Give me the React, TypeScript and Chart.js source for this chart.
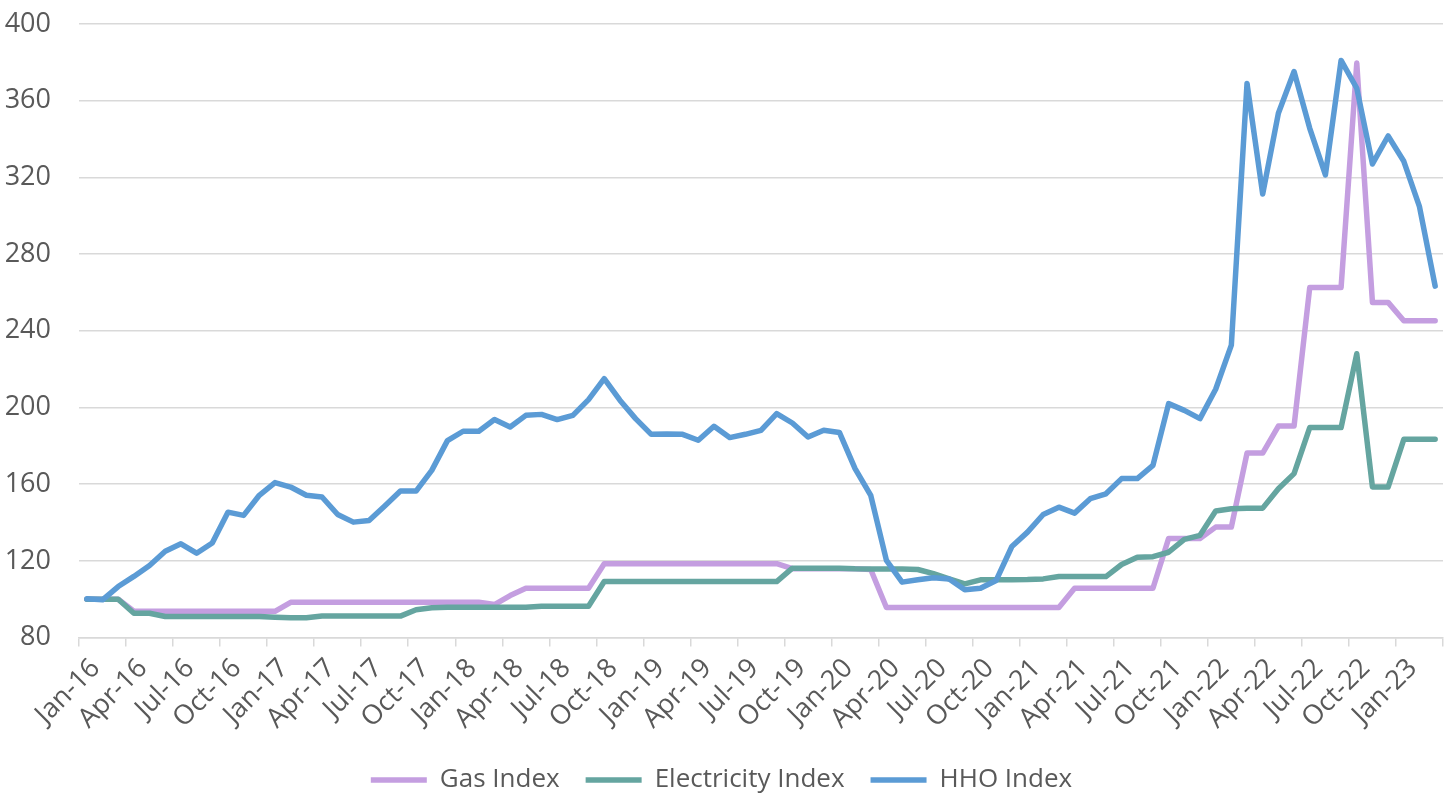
import React, { useEffect, useRef } from 'react';
import Chart from 'chart.js/auto';

const LABELS = [
  'Jan-16','Feb-16','Mar-16','Apr-16','May-16','Jun-16','Jul-16','Aug-16','Sep-16','Oct-16','Nov-16','Dec-16',
  'Jan-17','Feb-17','Mar-17','Apr-17','May-17','Jun-17','Jul-17','Aug-17','Sep-17','Oct-17','Nov-17','Dec-17',
  'Jan-18','Feb-18','Mar-18','Apr-18','May-18','Jun-18','Jul-18','Aug-18','Sep-18','Oct-18','Nov-18','Dec-18',
  'Jan-19','Feb-19','Mar-19','Apr-19','May-19','Jun-19','Jul-19','Aug-19','Sep-19','Oct-19','Nov-19','Dec-19',
  'Jan-20','Feb-20','Mar-20','Apr-20','May-20','Jun-20','Jul-20','Aug-20','Sep-20','Oct-20','Nov-20','Dec-20',
  'Jan-21','Feb-21','Mar-21','Apr-21','May-21','Jun-21','Jul-21','Aug-21','Sep-21','Oct-21','Nov-21','Dec-21',
  'Jan-22','Feb-22','Mar-22','Apr-22','May-22','Jun-22','Jul-22','Aug-22','Sep-22','Oct-22','Nov-22','Dec-22',
  'Jan-23','Feb-23','Mar-23',
];

const GAS_INDEX = [
  100, 100, 100,
  93.7, 93.7, 93.7, 93.7, 93.7, 93.7, 93.7, 93.7, 93.7, 93.7,
  98.4, 98.4, 98.4, 98.4, 98.4, 98.4, 98.4, 98.4, 98.4, 98.4, 98.4, 98.4, 98.4,
  97.2, 101.9,
  105.7, 105.7, 105.7, 105.7, 105.7,
  118.5, 118.5, 118.5, 118.5, 118.5, 118.5, 118.5, 118.5, 118.5, 118.5, 118.5, 118.5,
  115.9, 115.9, 115.9, 115.9, 115.9, 115.5,
  95.7, 95.7, 95.7, 95.7, 95.7, 95.7, 95.7, 95.7, 95.7, 95.7, 95.7, 95.7,
  105.7, 105.7, 105.7, 105.7, 105.7, 105.7,
  131.7, 131.7, 131.7,
  137.6, 137.6,
  176.2, 176.2,
  190.3, 190.3,
  262.6, 262.6, 262.6,
  379.6,
  254.8, 254.8,
  245.2, 245.2, 245.2,
];

const ELECTRICITY_INDEX = [
  100, 100, 100,
  92.7, 92.7,
  91, 91, 91, 91, 91, 91, 91,
  90.6,
  90.3, 90.3,
  91.2, 91.2, 91.2, 91.2, 91.2, 91.2,
  94.5, 95.5,
  95.8, 95.8, 95.8, 95.8, 95.8, 95.8,
  96.3, 96.3, 96.3, 96.3,
  109.2, 109.2, 109.2, 109.2, 109.2, 109.2, 109.2, 109.2, 109.2, 109.2, 109.2, 109.2,
  116.2, 116.2, 116.2, 116.2,
  115.9, 115.8, 115.8, 115.7, 115.5,
  113.3, 110.6, 108, 110.1,
  110.2, 110.2, 110.3, 110.6,
  111.8, 111.8, 111.8, 111.8,
  118.1, 121.9, 122.2, 124.5, 131.2, 133.3, 146, 147.2,
  147.5, 147.5,
  157.6, 165.5,
  189.5, 189.5, 189.5,
  228,
  158.5, 158.5,
  183.4, 183.4, 183.4,
];

const HHO_INDEX = [
  100.2, 99.7, 106.6, 111.9, 117.6, 125, 128.9, 124, 129.3, 145.4, 143.7, 154.2,
  160.8, 158.5, 154.2, 153.3, 144.2, 140.2, 141.1, 148.6, 156.4, 156.4, 167.2, 182.7,
  187.6, 187.6, 193.7, 189.8, 195.9, 196.4, 193.7, 195.9, 204.1, 215, 203.8, 194.2,
  186, 186.2, 186, 182.9, 190.2, 184.3, 186, 188.1, 196.8, 191.9, 184.6, 188.1,
  187, 168.1, 154.2, 120.2, 108.9, 110.1, 111.2, 110.6, 104.9, 105.7, 109.8, 127.5,
  135, 144.2, 148, 144.9, 152.4, 155, 162.9, 162.9, 169.8, 202, 198.5, 194.2,
  209.5, 232.5, 369, 311.3, 353.5, 375.2, 345.6, 321.3, 381, 366.5, 327, 341.6,
  328.4, 304.7, 263.3,
];

const Y_MIN = 80;
const Y_MAX = 400;
const Y_STEP = 40;

const GAS_COLOR = '#C49EE0';
const ELEC_COLOR = '#65A5A0';
const HHO_COLOR = '#5B9BD5';
const TEXT_COLOR = '#595959';
const GRID_COLOR = '#D9D9D9';
const FONT_FAMILY = '"Open Sans", "Noto Sans", sans-serif';

export default function App() {
  const canvasRef = useRef<HTMLCanvasElement | null>(null);

  useEffect(() => {
    if (!canvasRef.current) return;
    const lineDefaults = {
      borderWidth: 5.5,
      pointRadius: 0,
      pointHoverRadius: 0,
      tension: 0,
      fill: false,
      borderCapStyle: 'round' as const,
      borderJoinStyle: 'round' as const,
    };
    const chart = new Chart(canvasRef.current, {
      type: 'line',
      data: {
        labels: LABELS,
        datasets: [
          { ...lineDefaults, label: 'Gas Index', data: GAS_INDEX, borderColor: GAS_COLOR, backgroundColor: GAS_COLOR, order: 3 },
          { ...lineDefaults, label: 'Electricity Index', data: ELECTRICITY_INDEX, borderColor: ELEC_COLOR, backgroundColor: ELEC_COLOR, order: 2 },
          { ...lineDefaults, label: 'HHO Index', data: HHO_INDEX, borderColor: HHO_COLOR, backgroundColor: HHO_COLOR, order: 1 },
        ],
      },
      options: {
        animation: false,
        responsive: true,
        maintainAspectRatio: false,
        layout: { padding: { top: 24, right: 10, left: 0, bottom: -7 } },
        plugins: {
          tooltip: { enabled: false },
          legend: {
            position: 'bottom',
            labels: {
              usePointStyle: true,
              pointStyle: 'line',
              pointStyleWidth: 56,
              boxHeight: 26,
              padding: 26,
              color: TEXT_COLOR,
              font: { family: FONT_FAMILY, size: 26 },
              sort: (a: any, b: any) => a.datasetIndex - b.datasetIndex,
            },
          },
        },
        scales: {
          x: {
            offset: true,
            grid: {
              offset: true,
              drawOnChartArea: false,
              drawTicks: true,
              tickLength: 9,
              lineWidth: 1.5,
              tickColor: (ctx: any) =>
                ctx.index === undefined || ctx.index % 3 === 0 ? GRID_COLOR : 'rgba(0,0,0,0)',
            },
            border: { color: GRID_COLOR, width: 1.5 },
            ticks: {
              autoSkip: false,
              maxRotation: 45,
              minRotation: 45,
              padding: 6,
              labelOffset: 9,
              color: TEXT_COLOR,
              font: { family: FONT_FAMILY, size: 27 },
              callback: (_v: any, i: number) => (i % 3 === 0 ? LABELS[i] : ''),
            },
            afterFit: (scale: any) => {
              scale.paddingRight = 0;
            },
          },
          y: {
            min: Y_MIN,
            max: Y_MAX,
            ticks: {
              stepSize: Y_STEP,
              padding: 0,
              color: TEXT_COLOR,
              font: { family: FONT_FAMILY, size: 27 },
            },
            grid: {
              color: GRID_COLOR,
              lineWidth: 1.5,
              drawTicks: true,
              tickLength: 28,
              tickColor: 'rgba(0,0,0,0)',
            },
            border: { display: false },
            afterFit: (scale: any) => {
              scale.width = 79;
            },
          },
        },
      },
    });
    return () => chart.destroy();
  }, []);

  return (
    <div style={{ position: 'fixed', left: 0, top: 0, width: 1453, height: 796, background: '#fff' }}>
      <canvas ref={canvasRef} />
    </div>
  );
}
